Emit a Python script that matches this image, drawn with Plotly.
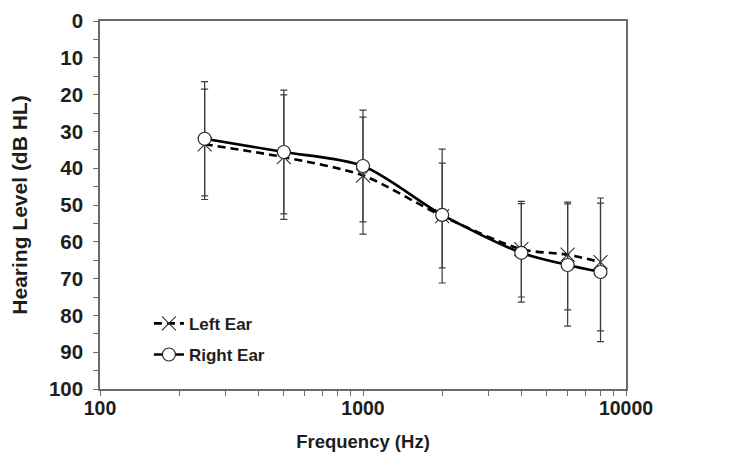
import plotly.graph_objects as go

freqs = [250, 500, 1000, 2000, 4000, 6000, 8000]

right_ear = [32.0, 35.6, 39.4, 52.7, 63.0, 66.3, 68.2]
right_err_up = [15.5, 16.8, 15.2, 14.1, 13.4, 16.6, 18.7]      # toward lower dB (top)
right_err_down = [15.5, 16.8, 15.2, 14.4, 13.4, 16.6, 18.9]    # toward higher dB (bottom)

left_ear = [33.5, 37.0, 42.0, 53.0, 62.0, 63.5, 65.5]
left_err_up = [15.0, 16.9, 15.9, 18.2, 13.0, 14.3, 17.4]
left_err_down = [15.0, 16.9, 15.9, 18.2, 13.0, 15.0, 18.7]

x_tickvals = [100, 200, 300, 400, 500, 600, 700, 800, 900,
              1000, 2000, 3000, 4000, 5000, 6000, 7000, 8000, 9000, 10000]
x_ticktext = ["100", "", "", "", "", "", "", "", "",
              "1000", "", "", "", "", "", "", "", "", "10000"]
y_tickvals = [0, 10, 20, 30, 40, 50, 60, 70, 80, 90, 100]

FONT = "Liberation Sans, Arial, sans-serif"
TXT = "#1e1e1e"
AX = "#6a6a6a"
BAR = "#3c3c3c"

fig = go.Figure()

fig.add_trace(go.Scatter(
    x=freqs, y=left_ear, name="Left Ear", mode="lines+markers",
    legendgroup="a",
    line=dict(color="black", width=2.6, dash="8px,5px", shape="spline", smoothing=0.8),
    marker=dict(symbol="x-thin-open", size=14, color="#333333",
                line=dict(color="#333333", width=1.1)),
    error_y=dict(type="data", symmetric=False, array=left_err_down,
                 arrayminus=left_err_up, color=BAR, thickness=1.2, width=3.5),
))

fig.add_trace(go.Scatter(
    x=freqs, y=right_ear, name="Right Ear", mode="lines+markers",
    legendgroup="b",
    line=dict(color="black", width=2.6, shape="spline", smoothing=0.8),
    marker=dict(symbol="circle", size=13, color="white",
                line=dict(color="#2a2a2a", width=1.2)),
    error_y=dict(type="data", symmetric=False, array=right_err_down,
                 arrayminus=right_err_up, color=BAR, thickness=1.2, width=3.5),
))

fig.update_layout(
    width=742, height=467,
    margin=dict(l=92, r=124, t=13, b=86, autoexpand=False),
    paper_bgcolor="white", plot_bgcolor="white",
    font=dict(family=FONT, color=TXT),
    showlegend=True,
    legend=dict(x=0.093, y=0.226, xanchor="left", yanchor="top",
                bgcolor="rgba(0,0,0,0)", traceorder="grouped", tracegroupgap=6,
                font=dict(family=FONT, size=17, color=TXT, weight="bold")),
    xaxis=dict(
        type="log", range=[2, 4], automargin=False,
        tickmode="array", tickvals=x_tickvals, ticktext=x_ticktext,
        ticks="outside", ticklen=5, tickwidth=1, tickcolor=AX,
        ticklabelstandoff=-4,
        showline=True, linecolor=AX, linewidth=1.5, mirror=True,
        showgrid=False, zeroline=False,
        tickfont=dict(family=FONT, size=19.5, color=TXT, weight="bold"),
        title=dict(text="Frequency (Hz)", standoff=17,
                   font=dict(family=FONT, size=18.5, color=TXT, weight="bold")),
    ),
    yaxis=dict(
        range=[100, 0], automargin=False,
        tickmode="array", tickvals=y_tickvals,
        ticks="outside", ticklen=5, tickwidth=1, tickcolor=AX,
        ticklabelstandoff=6,
        minor=dict(dtick=5, tick0=5, ticks="outside", ticklen=5, tickwidth=1, tickcolor=AX),
        showline=True, linecolor=AX, linewidth=1.5, mirror=True,
        showgrid=False, zeroline=False,
        tickfont=dict(family=FONT, size=20.5, color=TXT, weight="bold"),
        title=dict(text="Hearing Level (dB HL)", standoff=17,
                   font=dict(family=FONT, size=21, color=TXT, weight="bold")),
    ),
)

fig.write_html("out.html")
